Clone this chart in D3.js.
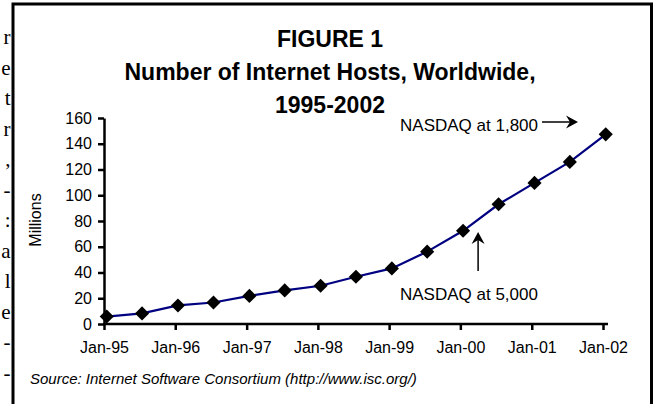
<!DOCTYPE html>
<html>
<head>
<meta charset="utf-8">
<script src="https://cdn.jsdelivr.net/npm/d3@7"></script>
<style>
  html, body { margin: 0; padding: 0; background: #fff; }
  svg { display: block; }
  text { font-family: "Liberation Sans", Arial, sans-serif; fill: #000; }
</style>
</head>
<body>
<svg id="chart" width="657" height="404"></svg>
<script>
// Survey months (ISC host count surveys)
const surveyMonths = ["1995-01","1995-07","1996-01","1996-07","1997-01","1997-07","1998-01",
  "1998-07","1999-01","1999-07","2000-01","2000-07","2001-01","2001-07","2002-01"];
// Internet hosts, millions
const hostsMillions = [5.8, 8.2, 14.4, 16.7, 21.8, 26.1, 29.7, 36.7, 43.2, 56.2, 72.4, 93.0, 109.6, 125.9, 147.3];
// Axis ticks
const xTickYears = [1995, 1996, 1997, 1998, 1999, 2000, 2001, 2002];
const xTickLabels = ["Jan-95","Jan-96","Jan-97","Jan-98","Jan-99","Jan-00","Jan-01","Jan-02"];
const yTicks = [0, 20, 40, 60, 80, 100, 120, 140, 160];
// Titles and notes
const titleLines = ["FIGURE 1", "Number of Internet Hosts, Worldwide,", "1995-2002"];
const sourceNote = "Source: Internet Software Consortium (http://www.isc.org/)";
const noteHigh = "NASDAQ at 1,800";
const noteLow = "NASDAQ at 5,000";
// Line ends of the surrounding page text
const pageEdgeChars = ["r","e","t","r",",","-",":","a","l","e","-","-"];

const svg = d3.select("#chart");

// Page text running along the left edge
svg.append("g").selectAll("text").data(pageEdgeChars).join("text")
  .attr("x", 10.5).attr("y", (d, i) => 44 + i * 30.5)
  .attr("text-anchor", "end")
  .style("font-family", "'Liberation Serif', 'Times New Roman', serif")
  .style("font-size", "21px")
  .text(d => d);

// Frame
svg.append("rect").attr("x", 13).attr("y", 4).attr("width", 638.5).attr("height", 420)
  .attr("fill", "#fff").attr("stroke", "#000").attr("stroke-width", 3);

const parseMonth = d3.timeParse("%Y-%m-%d");
const data = surveyMonths.map((m, i) => ({ date: parseMonth(m + "-15"), value: hostsMillions[i] }));

const x = d3.scaleTime()
  .domain([new Date(1995, 0, 1), new Date(2002, 0, 1)])
  .range([104, 603]);
const y = d3.scaleLinear().domain([0, 160]).range([324, 118]);

// Title
svg.append("g").selectAll("text").data(titleLines).join("text")
  .attr("x", 330).attr("y", (d, i) => 47 + i * 33)
  .attr("text-anchor", "middle")
  .style("font-size", "23px").style("font-weight", "bold")
  .text(d => d);

// Y axis
const yAxis = svg.append("g").attr("transform", `translate(${x.range()[0]},0)`)
  .call(d3.axisLeft(y).tickValues(yTicks).tickSize(6).tickSizeOuter(0).tickPadding(6));
yAxis.select(".domain").attr("stroke-width", 2.5);
yAxis.selectAll(".tick line").attr("stroke-width", 2.5);
yAxis.selectAll(".tick text").style("font-size", "16px").style("font-family", "'Liberation Sans', Arial, sans-serif");

// X axis
const xAxis = svg.append("g").attr("transform", `translate(0,${y(0)})`)
  .call(d3.axisBottom(x)
    .tickValues(xTickYears.map(yr => new Date(yr, 0, 1)))
    .tickFormat((d, i) => xTickLabels[i])
    .tickSize(6).tickSizeOuter(0).tickPadding(12));
xAxis.select(".domain").remove();
xAxis.append("line").attr("x1", x.range()[0] - 1).attr("x2", x.range()[1] + 5)
  .attr("stroke", "#000").attr("stroke-width", 2.5);
xAxis.selectAll(".tick line").attr("stroke-width", 2.5);
xAxis.selectAll(".tick text").style("font-size", "16px").style("font-family", "'Liberation Sans', Arial, sans-serif");

// Y axis title
svg.append("text")
  .attr("transform", "translate(41,220) rotate(-90)")
  .attr("text-anchor", "middle")
  .style("font-size", "16px")
  .text("Millions");

// Series line
svg.append("path").datum(data)
  .attr("fill", "none").attr("stroke", "#000080").attr("stroke-width", 2.2)
  .attr("d", d3.line().x(d => x(d.date)).y(d => y(d.value)));

// Diamond markers
svg.append("g").selectAll("path").data(data).join("path")
  .attr("transform", d => `translate(${x(d.date)},${y(d.value)}) rotate(45)`)
  .attr("d", d3.symbol(d3.symbolSquare, 100))
  .attr("fill", "#000");

// Arrowhead helper: filled notched head at (tx,ty) pointing along angle (deg)
function arrowHead(g, tx, ty, angle) {
  g.append("path")
    .attr("transform", `translate(${tx},${ty}) rotate(${angle})`)
    .attr("d", "M0,0 L-12,-6.5 L-8,0 L-12,6.5 Z")
    .attr("fill", "#000");
}

// NASDAQ notes
const notes = svg.append("g");
notes.append("text").attr("x", 538).attr("y", 131).attr("text-anchor", "end")
  .style("font-size", "17px").text(noteHigh);
notes.append("line").attr("x1", 542).attr("x2", 572).attr("y1", 122).attr("y2", 122)
  .attr("stroke", "#000").attr("stroke-width", 1.5);
arrowHead(notes, 578, 122, 0);

const xNote = x(new Date(2000, 3, 1));
notes.append("text").attr("x", 400).attr("y", 300)
  .style("font-size", "17px").text(noteLow);
notes.append("line").attr("x1", xNote).attr("x2", xNote).attr("y1", 271).attr("y2", 238)
  .attr("stroke", "#000").attr("stroke-width", 1.5);
arrowHead(notes, xNote, 232, -90);

// Source line
svg.append("text").attr("x", 30).attr("y", 384)
  .style("font-size", "15px").style("font-style", "italic")
  .text(sourceNote);
</script>
</body>
</html>
